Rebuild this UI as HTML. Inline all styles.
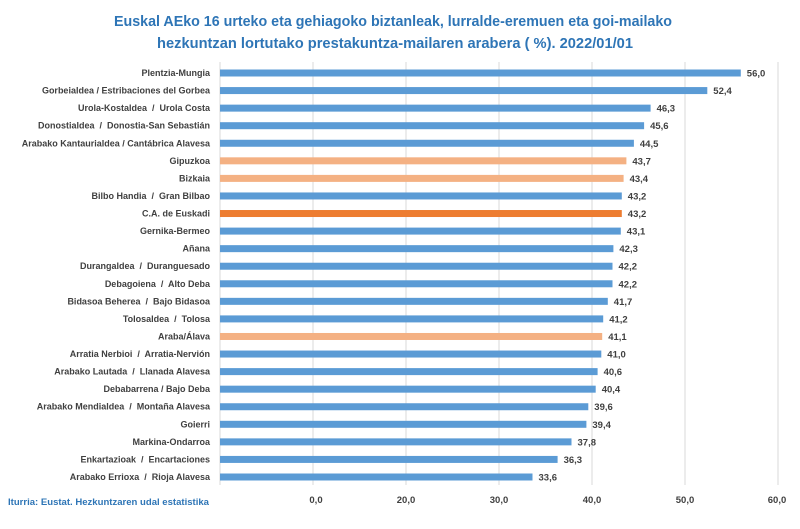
<!DOCTYPE html>
<html><head><meta charset="utf-8"><style>
body{margin:0;background:#fff}
svg{display:block;font-family:"Liberation Sans",sans-serif}
.l text{white-space:pre}
</style></head><body>
<svg width="800" height="529" viewBox="0 0 800 529" xmlns="http://www.w3.org/2000/svg">
<rect width="800" height="529" fill="#fff"/>
<text x="393" y="26" text-anchor="middle" font-size="15" font-weight="bold" fill="#2E75B6" textLength="558" lengthAdjust="spacingAndGlyphs">Euskal AEko 16 urteko eta gehiagoko biztanleak, lurralde-eremuen eta goi-mailako</text>
<text x="395" y="48" text-anchor="middle" font-size="15" font-weight="bold" fill="#2E75B6" textLength="476" lengthAdjust="spacingAndGlyphs">hezkuntzan lortutako prestakuntza-mailaren arabera ( %). 2022/01/01</text>
<g stroke="#d9d9d9" stroke-width="1">
<line x1="220" y1="62" x2="220" y2="485"/>
<line x1="313" y1="62" x2="313" y2="485"/>
<line x1="406" y1="62" x2="406" y2="485"/>
<line x1="499" y1="62" x2="499" y2="485"/>
<line x1="592" y1="62" x2="592" y2="485"/>
<line x1="685" y1="62" x2="685" y2="485"/>
<line x1="778" y1="62" x2="778" y2="485"/>
</g>
<g font-size="9.5" font-weight="bold" fill="#404040" text-anchor="middle">
<text x="316" y="503">0,0</text>
<text x="406" y="503">20,0</text>
<text x="499" y="503">30,0</text>
<text x="592" y="503">40,0</text>
<text x="685" y="503">50,0</text>
<text x="777" y="503">60,0</text>
</g>
<text x="8" y="505" font-size="9" font-weight="bold" fill="#2E75B6" textLength="201" lengthAdjust="spacingAndGlyphs">Iturria: Eustat. Hezkuntzaren udal estatistika</text>

<g fill="#5B9BD5">
<rect x="220" y="69.5" width="520.8" height="7"/>
<rect x="220" y="87.07" width="487.3" height="7"/>
<rect x="220" y="104.63" width="430.6" height="7"/>
<rect x="220" y="122.2" width="424.1" height="7"/>
<rect x="220" y="139.76" width="413.9" height="7"/>
<rect x="220" y="157.33" width="406.4" height="7" fill="#F4B183"/>
<rect x="220" y="174.89" width="403.6" height="7" fill="#F4B183"/>
<rect x="220" y="192.46" width="401.8" height="7"/>
<rect x="220" y="210.02" width="401.8" height="7" fill="#ED7D31"/>
<rect x="220" y="227.59" width="400.8" height="7"/>
<rect x="220" y="245.15" width="393.4" height="7"/>
<rect x="220" y="262.72" width="392.5" height="7"/>
<rect x="220" y="280.28" width="392.5" height="7"/>
<rect x="220" y="297.85" width="387.8" height="7"/>
<rect x="220" y="315.41" width="383.2" height="7"/>
<rect x="220" y="332.98" width="382.2" height="7" fill="#F4B183"/>
<rect x="220" y="350.54" width="381.3" height="7"/>
<rect x="220" y="368.11" width="377.6" height="7"/>
<rect x="220" y="385.67" width="375.7" height="7"/>
<rect x="220" y="403.24" width="368.3" height="7"/>
<rect x="220" y="420.8" width="366.4" height="7"/>
<rect x="220" y="438.37" width="351.5" height="7"/>
<rect x="220" y="455.93" width="337.6" height="7"/>
<rect x="220" y="473.5" width="312.5" height="7"/>
</g>

<g class="l" font-size="9" font-weight="bold" fill="#404040" text-anchor="end">
<text x="210" y="76">Plentzia-Mungia</text>
<text x="210" y="93.57">Gorbeialdea / Estribaciones del Gorbea</text>
<text x="210" y="111.13">Urola-Kostaldea  /  Urola Costa</text>
<text x="210" y="128.7">Donostialdea  /  Donostia-San Sebastián</text>
<text x="210" y="146.26">Arabako Kantaurialdea / Cantábrica Alavesa</text>
<text x="210" y="163.83">Gipuzkoa</text>
<text x="210" y="181.39">Bizkaia</text>
<text x="210" y="198.96">Bilbo Handia  /  Gran Bilbao</text>
<text x="210" y="216.52">C.A. de Euskadi</text>
<text x="210" y="234.09">Gernika-Bermeo</text>
<text x="210" y="251.65">Añana</text>
<text x="210" y="269.22">Durangaldea  /  Duranguesado</text>
<text x="210" y="286.78">Debagoiena  /  Alto Deba</text>
<text x="210" y="304.35">Bidasoa Beherea  /  Bajo Bidasoa</text>
<text x="210" y="321.91">Tolosaldea  /  Tolosa</text>
<text x="210" y="339.48">Araba/Álava</text>
<text x="210" y="357.04">Arratia Nerbioi  /  Arratia-Nervión</text>
<text x="210" y="374.61">Arabako Lautada  /  Llanada Alavesa</text>
<text x="210" y="392.17">Debabarrena / Bajo Deba</text>
<text x="210" y="409.74">Arabako Mendialdea  /  Montaña Alavesa</text>
<text x="210" y="427.3">Goierri</text>
<text x="210" y="444.87">Markina-Ondarroa</text>
<text x="210" y="462.43">Enkartazioak  /  Encartaciones</text>
<text x="210" y="480">Arabako Errioxa  /  Rioja Alavesa</text>
</g>

<g font-size="9.5" font-weight="bold" fill="#404040">
<text x="746.8" y="76.5">56,0</text>
<text x="713.3" y="94.07">52,4</text>
<text x="656.6" y="111.63">46,3</text>
<text x="650.1" y="129.2">45,6</text>
<text x="639.9" y="146.76">44,5</text>
<text x="632.4" y="164.33">43,7</text>
<text x="629.6" y="181.89">43,4</text>
<text x="627.8" y="199.46">43,2</text>
<text x="627.8" y="217.02">43,2</text>
<text x="626.8" y="234.59">43,1</text>
<text x="619.4" y="252.15">42,3</text>
<text x="618.5" y="269.72">42,2</text>
<text x="618.5" y="287.28">42,2</text>
<text x="613.8" y="304.85">41,7</text>
<text x="609.2" y="322.41">41,2</text>
<text x="608.2" y="339.98">41,1</text>
<text x="607.3" y="357.54">41,0</text>
<text x="603.6" y="375.11">40,6</text>
<text x="601.7" y="392.67">40,4</text>
<text x="594.3" y="410.24">39,6</text>
<text x="592.4" y="427.8">39,4</text>
<text x="577.5" y="445.37">37,8</text>
<text x="563.6" y="462.93">36,3</text>
<text x="538.5" y="480.5">33,6</text>
</g>
</svg>
</body></html>
